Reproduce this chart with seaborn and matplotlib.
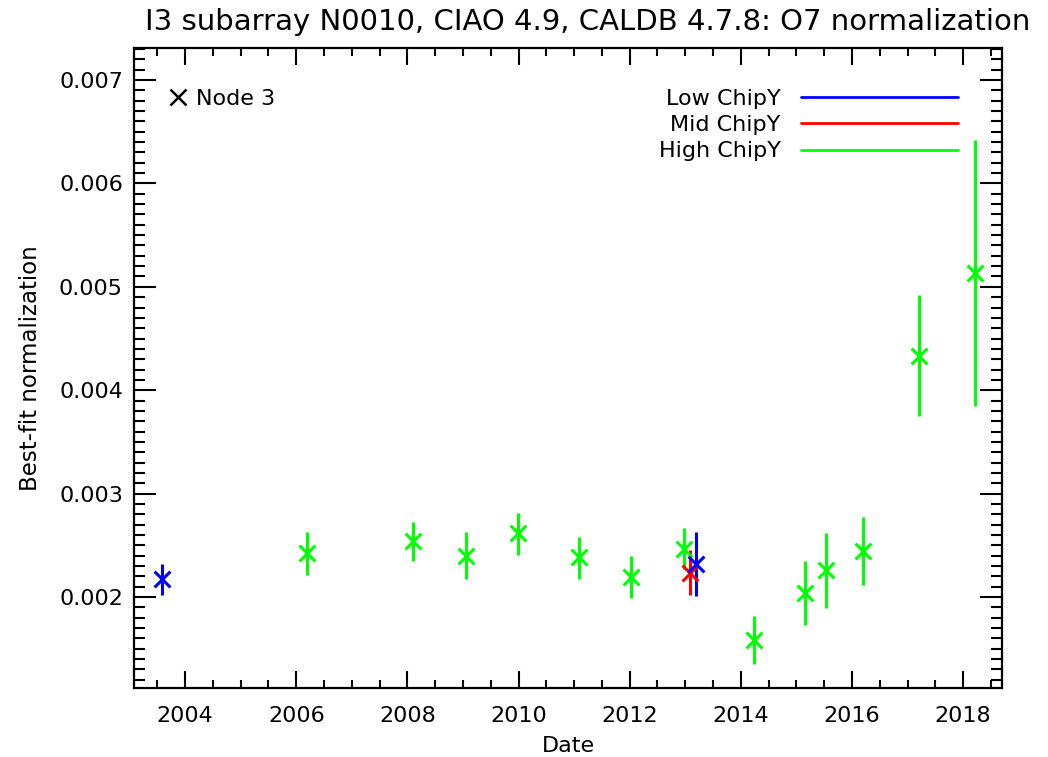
import matplotlib
matplotlib.use("Agg")
import matplotlib.pyplot as plt
from matplotlib.lines import Line2D
from matplotlib.ticker import MultipleLocator, FormatStrFormatter
import seaborn as sns
import pandas as pd

# Low ChipY region
low_date = [2003.59, 2013.19]
low_norm = [0.002172, 0.002317]
low_lo = [0.002016, 0.002010]
low_hi = [0.002317, 0.002625]

# Mid ChipY region
mid_date = [2013.09]
mid_norm = [0.002230]
mid_lo = [0.002019]
mid_hi = [0.002453]

# High ChipY region
high_date = [2006.20, 2008.10, 2009.06, 2009.99, 2011.08, 2012.03, 2012.98,
             2014.24, 2015.15, 2015.54, 2016.20, 2017.20, 2018.22]
high_norm = [0.002424, 0.002537, 0.002398, 0.002615, 0.002385, 0.002194, 0.002469,
             0.001589, 0.002036, 0.002262, 0.002447, 0.004335, 0.005135]
high_lo = [0.002214, 0.002350, 0.002172, 0.002408, 0.002178, 0.001990, 0.002269,
           0.001356, 0.001725, 0.001896, 0.002113, 0.003755, 0.003845]
high_hi = [0.002631, 0.002722, 0.002625, 0.002810, 0.002580, 0.002398, 0.002663,
           0.001816, 0.002346, 0.002618, 0.002777, 0.004925, 0.006420]

x_ticks = [2004, 2006, 2008, 2010, 2012, 2014, 2016, 2018]
y_ticks = [0.002, 0.003, 0.004, 0.005, 0.006, 0.007]

series = [
    ("High ChipY", high_date, high_norm, high_lo, high_hi, "#00ff00"),
    ("Mid ChipY", mid_date, mid_norm, mid_lo, mid_hi, "#ff0000"),
    ("Low ChipY", low_date, low_norm, low_lo, low_hi, "#0000ff"),
]

sns.set_style("white")
plt.rcParams["font.family"] = ["DejaVu Sans"]
plt.rcParams["text.color"] = "black"
plt.rcParams["axes.labelcolor"] = "black"

fig = plt.figure(figsize=(10.48, 7.57), dpi=100)
ax = fig.add_axes([134 / 1048, 1 - 688 / 757, (1002 - 134) / 1048, (688 - 48) / 757])

for name, d, v, lo, hi, col in series:
    df = pd.DataFrame({"date": d, "norm": v, "lo": lo, "hi": hi})
    ax.vlines(df["date"], df["lo"], df["hi"], color=col, linewidth=2.2, zorder=2)
    sns.scatterplot(data=df, x="date", y="norm", marker="x", s=130, color=col,
                    linewidth=2.2, ax=ax, zorder=3, legend=False)

ax.set_xlim(2003.08, 2018.70)
ax.set_ylim(0.00112, 0.00731)
ax.set_xticks(x_ticks)
ax.xaxis.set_minor_locator(MultipleLocator(0.5))
ax.set_yticks(y_ticks)
ax.yaxis.set_major_formatter(FormatStrFormatter("%.3f"))
ax.yaxis.set_minor_locator(MultipleLocator(0.0001))

ax.tick_params(axis="both", which="both", direction="in", top=True, right=True,
               bottom=True, left=True, colors="black", labelcolor="black",
               width=1.5, labelsize=16)
ax.tick_params(axis="x", which="major", length=12, pad=13)
ax.tick_params(axis="x", which="minor", length=6)
ax.tick_params(axis="y", which="major", length=16, pad=8)
ax.tick_params(axis="y", which="minor", length=8)
for sp in ax.spines.values():
    sp.set_color("black")
    sp.set_linewidth(1.6)

ax.set_xlabel("Date", fontsize=16, labelpad=7)
ax.set_ylabel("Best-fit normalization", fontsize=16.5, labelpad=12)
fig.text(588 / 1048, 1 - 22 / 757, "I3 subarray N0010, CIAO 4.9, CALDB 4.7.8: O7 normalization",
         ha="center", va="center", fontsize=21)

# Region legend: labels on the left, coloured lines on the right
region_handles = [Line2D([], [], color=col, linewidth=2) for _, _, _, _, _, col in series[::-1]]
region_labels = [name for name, *_ in series[::-1]]
leg = ax.legend(region_handles, region_labels, loc="upper right", markerfirst=False,
                frameon=False, fontsize=16, handlelength=7.1, handletextpad=0.9,
                labelspacing=0.28, bbox_to_anchor=(0.96, 0.95), borderaxespad=0)
for t in leg.get_texts():
    t.set_ha("right")
ax.add_artist(leg)

node_handle = Line2D([], [], color="black", marker="x", linestyle="none",
                     markersize=12, markeredgewidth=1.8)
ax.legend([node_handle], ["Node 3"], loc="upper left", frameon=False, fontsize=16,
          handlelength=0.8, handletextpad=0.4, bbox_to_anchor=(0.03, 0.95), borderaxespad=0)

fig.savefig("out.png", dpi=100, facecolor="white")
